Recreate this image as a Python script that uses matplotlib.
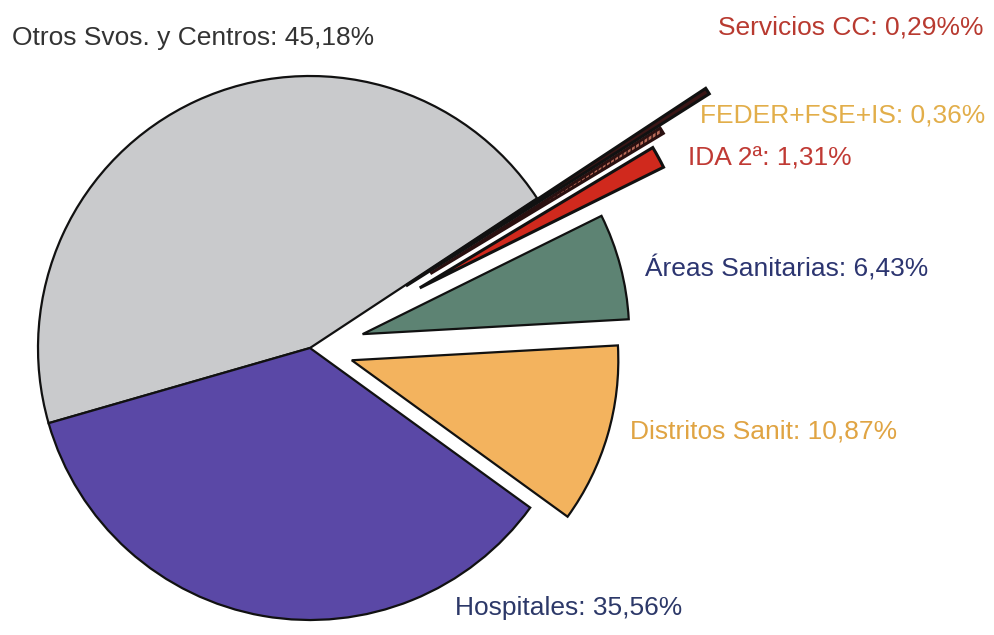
import matplotlib
matplotlib.use("Agg")
import matplotlib.pyplot as plt

categories = ["Otros Svos. y Centros", "Hospitales", "Distritos Sanit", "Áreas Sanitarias",
              "IDA 2ª", "FEDER+FSE+IS", "Servicios CC"]
values = [45.18, 35.56, 10.87, 6.43, 1.31, 0.36, 0.29]
label_texts = ["Otros Svos. y Centros: 45,18%", "Hospitales: 35,56%", "Distritos Sanit: 10,87%",
               "Áreas Sanitarias: 6,43%", "IDA 2ª: 1,31%", "FEDER+FSE+IS: 0,36%",
               "Servicios CC: 0,29%%"]

colors = ["#c9cacc", "#5a48a6", "#f3b35e", "#5d8373", "#d0291d", "#b86a58", "#3a1616"]
explode = [0, 0, 0.16, 0.20, 0.46, 0.52, 0.42]
radii = [1, 1, 0.98, 0.98, 1.0, 1.0, 1.32]
text_colors = ["#333333", "#2c3868", "#e0a443", "#2c3570", "#c03a34", "#e2ae4a", "#b83a30"]
# label anchor positions in pixels (left x, center y from top)
label_pos = [(12, 38), (455, 608), (630, 432), (645, 268), (688, 157), (700, 115), (718, 28)]

W, H = 994, 635
fig = plt.figure(figsize=(W / 100, H / 100), dpi=100)
ax = fig.add_axes([0, 0, 1, 1])
R = 272.0
cx, cy = 310.0, 348.0

wedges, _ = ax.pie(values, colors=colors, explode=explode, startangle=33.4,
                   counterclock=True, radius=1,
                   wedgeprops=dict(edgecolor="#111111", linewidth=1.6))
for w, r in zip(wedges, radii):
    w.set_radius(r)
for w in wedges[4:]:
    w.set_linewidth(2.2)
wedges[5].set_hatch("||||")
wedges[5].set_edgecolor("#2a1010")

ax.set_aspect("auto")
ax.set_xlim(-cx / R, (W - cx) / R)
ax.set_ylim(-(H - cy) / R, cy / R)
ax.axis("off")

for txt, col, (px, py) in zip(label_texts, text_colors, label_pos):
    fig.text(px / W, 1 - py / H, txt, color=col, fontsize=19,
             family="Liberation Sans", ha="left", va="center")

fig.savefig("out.png", dpi=100, facecolor="white")
